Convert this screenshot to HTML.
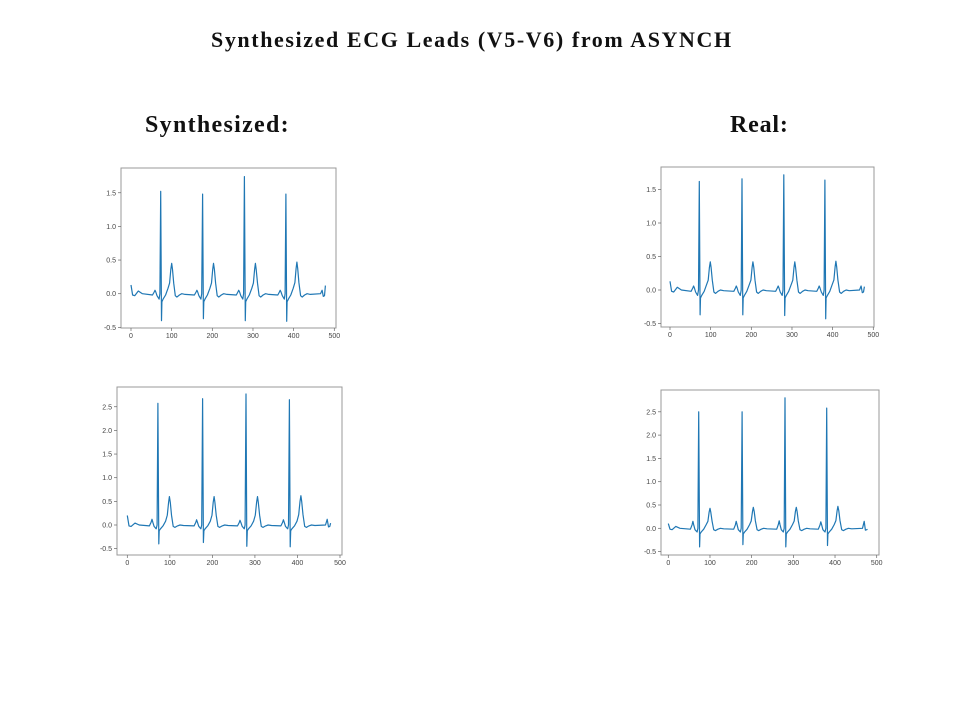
<!DOCTYPE html>
<html><head><meta charset="utf-8">
<style>
body{margin:0;background:#fff;width:960px;height:720px;overflow:hidden;position:relative;font-family:"Liberation Serif",serif}
.t{position:absolute;font-weight:bold;color:#111;white-space:nowrap}
svg{position:absolute;left:0;top:0}
</style></head>
<body>
<div class="t" style="left:211px;top:27px;font-size:22px;letter-spacing:1.6px">Synthesized ECG Leads (V5-V6) from ASYNCH</div>
<div class="t" style="left:145px;top:112px;font-size:24px;letter-spacing:1.3px">Synthesized:</div>
<div class="t" style="left:730px;top:112px;font-size:24px;letter-spacing:0.8px">Real:</div>
<svg id="svg" width="960" height="720"></svg>
<script>
// Beat data per panel: R-peak positions, R heights, S depths, T heights, P height, start value
const p1R=[73,176,279,381], p1Ramp=[1.52,1.48,1.74,1.48], p1S=[-0.40,-0.37,-0.40,-0.41], p1T=[0.45,0.45,0.45,0.47], p1P=[0.05,0.05,0.05,0.05], p1Start=0.13, p1End=0.12;
const p2R=[72,177,280,381], p2Ramp=[1.62,1.66,1.72,1.64], p2S=[-0.37,-0.37,-0.38,-0.43], p2T=[0.42,0.42,0.42,0.43], p2P=[0.06,0.06,0.06,0.06], p2Start=0.13, p2End=0.05;
const p3R=[72,177,279,381], p3Ramp=[2.57,2.67,2.77,2.65], p3S=[-0.40,-0.37,-0.45,-0.46], p3T=[0.60,0.60,0.60,0.62], p3P=[0.12,0.11,0.10,0.11], p3Start=0.20, p3End=0.04;
const p4R=[73,177,280,380], p4Ramp=[2.50,2.50,2.80,2.58], p4S=[-0.40,-0.35,-0.40,-0.37], p4T=[0.43,0.45,0.45,0.47], p4P=[0.15,0.15,0.16,0.14], p4Start=0.10, p4End=-0.02;
const ticks1=[-0.5,0.0,0.5,1.0,1.5];
const ticks2=[-0.5,0.0,0.5,1.0,1.5,2.0,2.5];
const xTicks=[0,100,200,300,400,500];
// Beat shape keypoints (offset from R, value; letters refer to beat params)
const shapeOff=[-20,-16,-14,-12,-9,-4,-2,0,2,3,6,12,18,22,25,27,29,32,36,40,46,52,60];
const shapeVal=[-0.02,'PM','P','PM',-0.03,-0.08,0,'R','S',-0.12,-0.08,-0.02,0.08,'T3','TM','T','TM','T3',-0.03,-0.05,-0.02,0.0,-0.01];

const NS='http://www.w3.org/2000/svg';
const svg=document.getElementById('svg');
function mk(tag,attrs,parent){const e=document.createElementNS(NS,tag);for(const k in attrs)e.setAttribute(k,attrs[k]);(parent||svg).appendChild(e);return e;}

function panel(name,box,x0,x500,y0,yPerUnit,yTicks,R,Ramp,S,T,P,start,end){
  const g=mk('g',{});
  
  
  const sx=v=>x0+(x500-x0)*v/500;
  const sy=v=>y0-v*yPerUnit;
  const fr=mk('rect',{x:box[0],y:box[1],width:box[2]-box[0],height:box[3]-box[1],fill:'none',stroke:'#999','stroke-width':1},g);
  
  
  yTicks.forEach(v=>{
    const y=sy(v);
    mk('line',{x1:box[0]-3,x2:box[0],y1:y,y2:y,stroke:'#666','stroke-width':0.7},g);
    const t=mk('text',{x:box[0]-5,y:y+2.5,'font-size':7,'text-anchor':'end',fill:'#444','font-family':'Liberation Sans, sans-serif'},g);
    t.textContent=v.toFixed(1);
    
    
  });
  xTicks.forEach(v=>{
    const x=sx(v);
    mk('line',{x1:x,x2:x,y1:box[3],y2:box[3]+3,stroke:'#666','stroke-width':0.7},g);
    const t=mk('text',{x:x,y:box[3]+10,'font-size':7,'text-anchor':'middle',fill:'#444','font-family':'Liberation Sans, sans-serif'},g);
    t.textContent=v;
    
    
  });
  const pts=[[0,start],[4,-0.02],[9,-0.03],[18,0.04],[28,0.0]];
  R.forEach((r,i)=>{
    shapeOff.forEach((o,j)=>{
      let v=shapeVal[j];
      if(v==='R')v=Ramp[i];else if(v==='S')v=S[i];else if(v==='T')v=T[i];
      else if(v==='TM')v=T[i]*0.8;else if(v==='T3')v=T[i]*0.35;
      else if(v==='P')v=P[i];else if(v==='PM')v=P[i]*0.5;
      pts.push([r+o,v]);
    });
  });
  pts.push([466,0.0],[470,P[0]],[473,-0.04],[476,-0.03],[478,end]);
  pts.sort((a,b)=>a[0]-b[0]);
  const d=pts.map((p,i)=>(i?'L':'M')+sx(p[0]).toFixed(1)+' '+sy(p[1]).toFixed(1)).join(' ');
  const path=mk('path',{d:d,fill:'none',stroke:'#1f77b4','stroke-width':1.2,'stroke-linejoin':'round'},g);
  
  
}
panel('synth-v5-panel',[121,168,336,328],131,334.3,293.7,67.3,ticks1,p1R,p1Ramp,p1S,p1T,p1P,p1Start,p1End);
panel('real-v5-panel',[661,167,874,327],670,873.3,290,67,ticks1,p2R,p2Ramp,p2S,p2T,p2P,p2Start,p2End);
panel('synth-v6-panel',[117,387,342,555],127.3,340,525,47.3,ticks2,p3R,p3Ramp,p3S,p3T,p3P,p3Start,p3End);
panel('real-v6-panel',[661,390,879,555],668.3,876.7,528.3,46.6,ticks2,p4R,p4Ramp,p4S,p4T,p4P,p4Start,p4End);
</script>
</body></html>
